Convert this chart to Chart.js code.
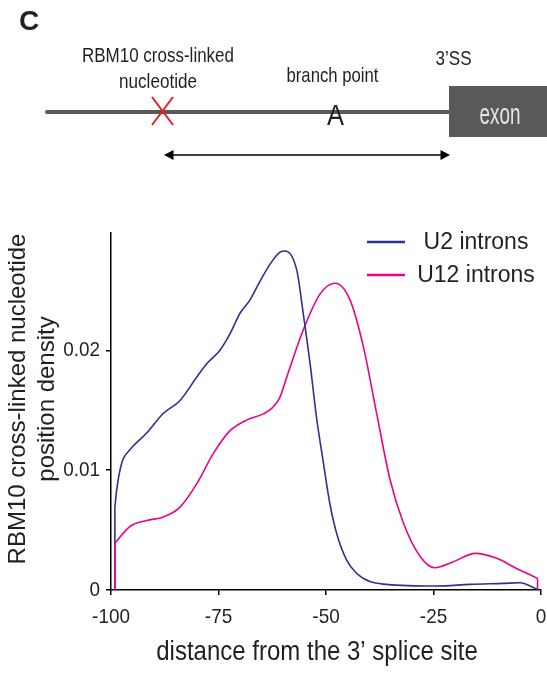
<!DOCTYPE html>
<html>
<head>
<meta charset="utf-8">
<script src="https://cdn.jsdelivr.net/npm/chart.js@4.4.0/dist/chart.umd.min.js"></script>
<style>
  html, body { margin: 0; padding: 0; background: #fff; }
  #wrap { position: relative; width: 547px; height: 675px; }
  #chart, #diagram { position: absolute; left: 0; top: 0; }
  #diagram { pointer-events: none; }
  #diagram text { font-family: "Liberation Sans", Arial, sans-serif; }
</style>
</head>
<body>
<div id="wrap">
  <canvas id="chart" width="547" height="675"></canvas>
  <svg id="diagram" width="547" height="200">
    <text x="19" y="30" font-weight="bold" font-size="28" fill="#231f20">C</text>
    <!-- intron with the exon box at the 3' end -->
    <line x1="47" y1="112" x2="451" y2="112" stroke="#58595b" stroke-width="4" stroke-linecap="round"/>
    <rect x="449" y="86" width="98" height="51" fill="#58595b"/>
    <text x="479.5" y="124" font-size="29" fill="#e6e6e6" textLength="41" lengthAdjust="spacingAndGlyphs">exon</text>
    <!-- cross-link site -->
    <line x1="152" y1="97" x2="173" y2="125" stroke="#ed1c24" stroke-width="2"/>
    <line x1="173" y1="97" x2="152" y2="125" stroke="#ed1c24" stroke-width="2"/>
    <text x="327" y="124.5" font-size="30" fill="#231f20" textLength="17" lengthAdjust="spacingAndGlyphs">A</text>
    <!-- labels -->
    <text x="82" y="61.5" font-size="21" fill="#231f20" textLength="152" lengthAdjust="spacingAndGlyphs">RBM10 cross-linked</text>
    <text x="119" y="88" font-size="21" fill="#231f20" textLength="78" lengthAdjust="spacingAndGlyphs">nucleotide</text>
    <text x="286.5" y="81.5" font-size="21" fill="#231f20" textLength="92" lengthAdjust="spacingAndGlyphs">branch point</text>
    <text x="435.5" y="65" font-size="21" fill="#231f20" textLength="36" lengthAdjust="spacingAndGlyphs">3’SS</text>
    <!-- distance arrow -->
    <line x1="170" y1="155" x2="444" y2="155" stroke="#000" stroke-width="1.5"/>
    <polygon points="164,155 173.5,150 173.5,160" fill="#000"/>
    <polygon points="450,155 440.5,150 440.5,160" fill="#000"/>
  </svg>
</div>
<script>
// distance to the 3' splice site (nt) and density of cross-linked positions
const u2Pos = [-99.1, -98.7, -97.5, -95.6, -91.7, -87.8, -84, -80, -77.7, -74.7, -72.3, -70, -67.7, -65.3,
  -63, -60.7, -59.5, -56.8, -55.3, -53.7, -52.2, -50.6, -49.1, -47.5, -45.2, -42.9, -39.8, -35.9,
  -24.3, -16.5, -8.8, -4.9, -0.8];
const u2Density = [0.0069, 0.0083, 0.0106, 0.0117, 0.0131, 0.01475, 0.0158, 0.0178, 0.0189, 0.0200, 0.0214,
  0.0231, 0.0242, 0.0258, 0.0272, 0.0282, 0.0283, 0.0267, 0.0231, 0.0189, 0.0144, 0.0106, 0.0072, 0.0047,
  0.0025, 0.0014, 0.0007, 0.00047, 0.00033, 0.00047, 0.00055, 0.0006, 0.00005];

const u12Pos = [-99.1, -95.6, -91.7, -87.8, -84, -80, -76.2, -72.3, -68.4, -64.6, -62.5, -60.7, -59.1, -55.3,
  -51.4, -47.9, -44.4, -41.3, -38.2, -35.1, -32, -28.1, -24.7, -20.4, -15.3, -10.3, -5.7, -0.8];
const u12Density = [0.0039, 0.0053, 0.0058, 0.0061, 0.0069, 0.0089, 0.0114, 0.0133, 0.0142, 0.0147, 0.0152,
  0.0161, 0.0178, 0.0217, 0.0247, 0.0256, 0.0242, 0.0203, 0.0147, 0.0092, 0.0056, 0.0028, 0.00186, 0.00236,
  0.00306, 0.00264, 0.0018, 0.00097];

const seriesNames = ['U2 introns', 'U12 introns'];
const xTicks = [-100, -75, -50, -25, 0];
const yTicks = [0, 0.01, 0.02];

const BLUE = '#2e3192';
const PINK = '#ec008c';
const INK = '#231f20';
const FONT = '"Liberation Sans", Arial, sans-serif';

const toPoints = (xs, ys) => xs.map((x, i) => ({ x: x, y: ys[i] }));
// vertical edge where a density curve meets the baseline
const edge = (x, y) => [{ x: x, y: 0 }, { x: x, y: y }];

const smooth = { cubicInterpolationMode: 'monotone', pointRadius: 0, borderWidth: 1.6, fill: false };
const straight = { tension: 0, pointRadius: 0, borderWidth: 1.6, fill: false };

// narrow text: Arial squeezed horizontally
function narrowText(ctx, text, x, y, align, squeeze) {
  ctx.save();
  ctx.translate(x, y);
  ctx.scale(squeeze, 1);
  ctx.textAlign = align;
  ctx.fillText(text, 0, 0);
  ctx.restore();
}

// tick labels, legend and axis titles
const overlay = {
  id: 'overlay',
  afterDraw(chart) {
    const { ctx, chartArea } = chart;
    const xs = chart.scales.x, ys = chart.scales.y;
    ctx.save();
    ctx.fillStyle = INK;

    ctx.font = '21px ' + FONT;
    ctx.textBaseline = 'alphabetic';
    xTicks.forEach(v => narrowText(ctx, String(v), xs.getPixelForValue(v), xs.top + 33, 'center', 0.9));
    ctx.textBaseline = 'middle';
    yTicks.forEach(v => narrowText(ctx, v === 0 ? '0' : v.toFixed(2), ys.right - 11, ys.getPixelForValue(v), 'right', 0.9));

    ctx.font = '23px ' + FONT;
    ctx.textAlign = 'center';
    chart.data.datasets.filter(d => d.label).forEach((d, i) => {
      const y = chartArea.top + 9 + i * 33;
      ctx.strokeStyle = d.borderColor;
      ctx.lineWidth = 2.5;
      ctx.beginPath();
      ctx.moveTo(chartArea.right - 174, y);
      ctx.lineTo(chartArea.right - 136, y);
      ctx.stroke();
      ctx.fillText(d.label, chartArea.right - 65, y + 1);
    });

    // x title
    ctx.textBaseline = 'alphabetic';
    ctx.save();
    ctx.translate(317, 660);
    ctx.scale(1, 1.12);
    ctx.font = '24px ' + FONT;
    ctx.fillText('distance from the 3’ splice site', 0, 0);
    ctx.restore();

    // y title, two lines
    ctx.save();
    ctx.translate(0, 399);
    ctx.rotate(-Math.PI / 2);
    ctx.font = '24px ' + FONT;
    ctx.fillText('RBM10 cross-linked nucleotide', 0, 25);
    ctx.fillText('position density', 0, 54);
    ctx.restore();

    ctx.restore();
  }
};

new Chart(document.getElementById('chart'), {
  type: 'line',
  data: {
    datasets: [
      Object.assign({ label: seriesNames[0], data: toPoints(u2Pos, u2Density), borderColor: BLUE }, smooth),
      Object.assign({ label: seriesNames[1], data: toPoints(u12Pos, u12Density), borderColor: PINK }, smooth),
      Object.assign({ data: edge(u12Pos[0], u12Density[0]), borderColor: PINK }, straight),
      Object.assign({ data: edge(u12Pos[u12Pos.length - 1], u12Density[u12Density.length - 1]), borderColor: PINK }, straight),
      Object.assign({ data: edge(u2Pos[0], u2Density[0]), borderColor: BLUE }, straight)
    ]
  },
  options: {
    responsive: false,
    animation: false,
    layout: { padding: { top: 233, right: 6, left: 0, bottom: 0 } },
    plugins: {
      legend: { display: false },
      tooltip: { enabled: false }
    },
    scales: {
      x: {
        type: 'linear',
        min: -100,
        max: 0,
        afterBuildTicks: axis => { axis.ticks = xTicks.map(v => ({ value: v })); },
        afterFit: axis => { axis.height = 85; },
        grid: { drawOnChartArea: false, drawTicks: true, tickLength: 5, color: '#000', lineWidth: 1.5 },
        border: { color: '#000', width: 1.5 },
        ticks: { display: false, padding: 0 }
      },
      y: {
        min: 0,
        max: 0.0298,
        afterBuildTicks: axis => { axis.ticks = yTicks.map(v => ({ value: v })); },
        afterFit: axis => { axis.width = 111; },
        grid: { drawOnChartArea: false, drawTicks: true, tickLength: 5, color: '#000', lineWidth: 1.5 },
        border: { color: '#000', width: 1.5 },
        ticks: { display: false, padding: 0 }
      }
    }
  },
  plugins: [overlay]
});
</script>
</body>
</html>
